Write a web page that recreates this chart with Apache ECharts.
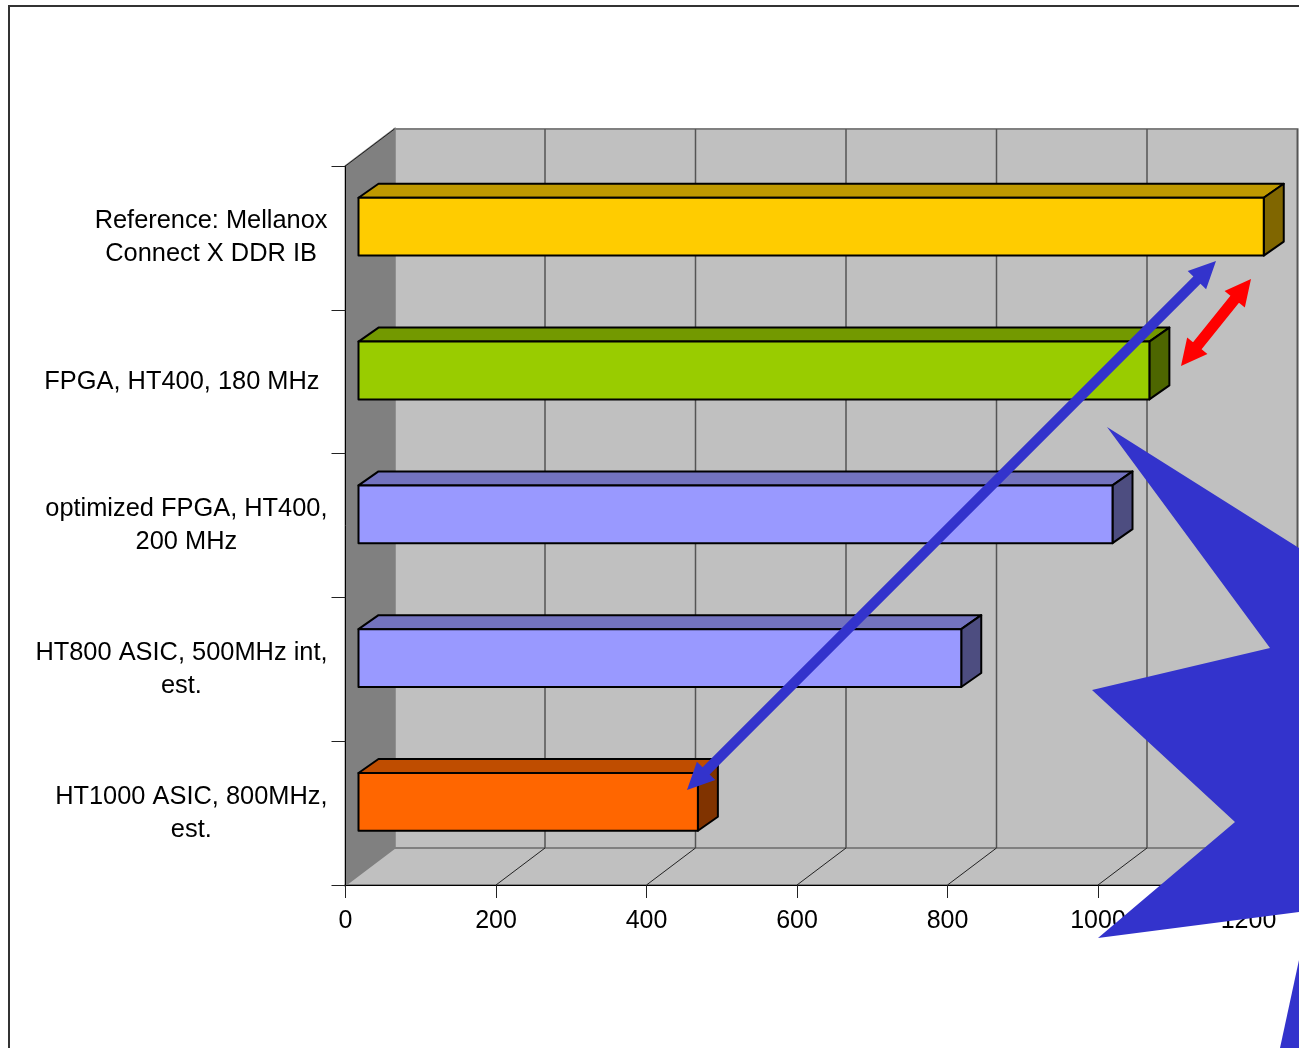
<!DOCTYPE html>
<html>
<head>
<meta charset="utf-8">
<style>html,body{margin:0;padding:0;background:#fff}#chart{width:1299px;height:1048px}</style>
<script src="https://cdn.jsdelivr.net/npm/echarts@6/dist/echarts.min.js"></script>
</head>
<body>
<div id="chart"></div>
<script>
// Throughput per configuration, top to bottom
const categories = [
  'Reference: Mellanox\nConnect X DDR IB',
  'FPGA, HT400, 180 MHz',
  'optimized FPGA, HT400,\n200 MHz',
  'HT800 ASIC, 500MHz int,\nest.',
  'HT1000 ASIC, 800MHz,\nest.'
];
const values = [1203, 1051, 1002, 801, 451];
const xTicks = [0, 200, 400, 600, 800, 1000, 1200];

// Front, top and side shades of each bar
const frontColors = ['#FFCC00', '#99CC00', '#9999FF', '#9999FF', '#FF6600'];
const topColors   = ['#BF9900', '#739900', '#7373BF', '#7373BF', '#BF4D00'];
const sideColors  = ['#806600', '#4D6600', '#4D4D80', '#4D4D80', '#803300'];

// Oblique projection of the chart box and of the bars inside it
const WALL_DX = 49, WALL_DY = -37;
const BAR_INSET = 13, BAR_DX = 20, BAR_DY = -14;
const BAR_FILL = 0.402, BAR_SHIFT = -0.078;

function renderWalls(params) {
  const c = params.coordSys;
  const l = c.x, r = c.x + c.width, t = c.y, b = c.y + c.height;
  const dx = WALL_DX, dy = WALL_DY;
  const edge = { stroke: '#808080', lineWidth: 2, lineJoin: 'miter' };
  return {
    type: 'group',
    children: [
      { type: 'polygon', shape: { points: [[l + dx, t + dy], [r + dx, t + dy], [r + dx, b + dy], [l + dx, b + dy]] },
        style: Object.assign({ fill: '#C0C0C0' }, edge) },
      { type: 'polygon', shape: { points: [[l, t], [l + dx, t + dy], [l + dx, b + dy], [l, b]] },
        style: Object.assign({ fill: '#808080' }, edge) },
      { type: 'polygon', shape: { points: [[l, b], [l + dx, b + dy], [r + dx, b + dy], [r, b]] },
        style: Object.assign({ fill: '#C0C0C0' }, edge) },
      { type: 'line', shape: { x1: l, y1: t, x2: l + dx, y2: t + dy }, style: { stroke: '#222', lineWidth: 1 } }
    ]
  };
}

function renderGridLines(params, api) {
  const p = api.coord([api.value(0), 0]);
  const c = params.coordSys;
  const b = c.y + c.height;
  const x = p[0];
  return {
    type: 'group',
    children: [
      { type: 'line', shape: { x1: x + WALL_DX, y1: c.y + WALL_DY, x2: x + WALL_DX, y2: b + WALL_DY },
        style: { stroke: '#555', lineWidth: 1.5 } },
      { type: 'line', shape: { x1: x, y1: b, x2: x + WALL_DX, y2: b + WALL_DY },
        style: { stroke: '#222', lineWidth: 1 } }
    ]
  };
}

function renderBar(params, api) {
  const i = api.value(1);
  const base = api.coord([0, i]);
  const tip = api.coord([api.value(0), i]);
  const band = api.size([0, 1])[1];
  const h = band * BAR_FILL;
  const cy = base[1] + band * BAR_SHIFT;
  const l = base[0] + BAR_INSET, r = tip[0] + BAR_INSET;
  const t = cy - h / 2, b = cy + h / 2;
  const line = { stroke: '#000', lineWidth: 2, lineJoin: 'round' };
  return {
    type: 'group',
    children: [
      { type: 'polygon', shape: { points: [[l, t], [l + BAR_DX, t + BAR_DY], [r + BAR_DX, t + BAR_DY], [r, t]] },
        style: Object.assign({ fill: topColors[i] }, line) },
      { type: 'polygon', shape: { points: [[r, t], [r + BAR_DX, t + BAR_DY], [r + BAR_DX, b + BAR_DY], [r, b]] },
        style: Object.assign({ fill: sideColors[i] }, line) },
      { type: 'rect', shape: { x: l, y: t, width: r - l, height: b - t },
        style: Object.assign({ fill: frontColors[i] }, line) }
    ]
  };
}

// Polygon outline of a straight two-headed arrow between two tips
function doubleArrow(a, b, shaft, headLen, headHalf) {
  const len = Math.hypot(b[0] - a[0], b[1] - a[1]);
  const ux = (b[0] - a[0]) / len, uy = (b[1] - a[1]) / len;
  const nx = -uy, ny = ux;
  const at = (along, off) => [a[0] + ux * along + nx * off, a[1] + uy * along + ny * off];
  const s = shaft / 2;
  return [
    at(0, 0), at(headLen, headHalf), at(headLen, s), at(len - headLen, s), at(len - headLen, headHalf),
    at(len, 0), at(len - headLen, -headHalf), at(len - headLen, -s), at(headLen, -s), at(headLen, -headHalf)
  ];
}

const chart = echarts.init(document.getElementById('chart'), null, { renderer: 'canvas' });
const tickFont = { fontFamily: 'Liberation Sans', fontSize: 25, color: '#000' };
const labelFont = { fontFamily: 'Liberation Sans', fontSize: 25.4, color: '#000' };

chart.setOption({
  animation: false,
  backgroundColor: '#fff',
  grid: { left: 345.5, top: 166, width: 903, height: 719, containLabel: false },
  xAxis: {
    type: 'value', min: 0, max: 1200, interval: 200, z: 5,
    axisLine: { show: true, onZero: false, lineStyle: { color: '#000', width: 1 } },
    axisTick: { show: true, length: 13, lineStyle: { color: '#222', width: 1 } },
    splitLine: { show: false },
    axisLabel: Object.assign({ margin: 24, hideOverlap: false, formatter: v => String(v) }, tickFont)
  },
  yAxis: {
    type: 'category', inverse: true, data: categories, z: 5,
    axisLine: { show: true, lineStyle: { color: '#000', width: 1 } },
    axisTick: { show: true, length: 14, lineStyle: { color: '#222', width: 1 } },
    splitLine: { show: false },
    axisLabel: {
      margin: 18, interval: 0, hideOverlap: false,
      formatter: function (v) {
        const lines = v.split('\n');
        const tag = lines.length > 1 ? 'l' : 's';
        return lines.map(s => '{' + tag + '|' + s + '}').join('\n');
      },
      rich: {
        l: Object.assign({ align: 'center', lineHeight: 33 }, labelFont),
        s: Object.assign({ padding: [0, 8, 0, 0], lineHeight: 33 }, labelFont)
      }
    }
  },
  series: [
    { type: 'custom', z: 1, silent: true, renderItem: renderWalls, data: [[0, 0]], encode: { x: 0, y: 1 } },
    { type: 'custom', z: 2, silent: true, renderItem: renderGridLines,
      data: xTicks.slice(1).map(v => [v, 0]), encode: { x: 0, y: 1 } },
    { type: 'custom', z: 3, silent: true, renderItem: renderBar,
      data: values.map((v, i) => [v, i]), encode: { x: 0, y: 1 } }
  ],
  graphic: [
    // slide frame
    { type: 'polyline', z: 50, silent: true, shape: { points: [[9, 1048], [9, 6], [1299, 6]] },
      style: { stroke: '#333', lineWidth: 2, fill: null } },
    // callout arrows
    { type: 'polygon', z: 60, silent: true,
      shape: { points: doubleArrow([1216, 261], [687, 790], 10, 27, 13) }, style: { fill: '#3333CC' } },
    { type: 'polygon', z: 60, silent: true,
      shape: { points: doubleArrow([1251, 279], [1181, 366], 11, 26, 13) }, style: { fill: '#FF0000' } },
    // starburst running off the slide
    { type: 'polygon', z: 70, silent: true,
      shape: { points: [[1107, 427], [1299, 548], [1299, 912], [1098, 938], [1235, 822], [1092, 690], [1270, 648]] },
      style: { fill: '#3333CC' } },
    { type: 'polygon', z: 70, silent: true,
      shape: { points: [[1299, 960], [1299, 1048], [1280, 1048]] }, style: { fill: '#3333CC' } }
  ]
});
</script>
</body>
</html>
